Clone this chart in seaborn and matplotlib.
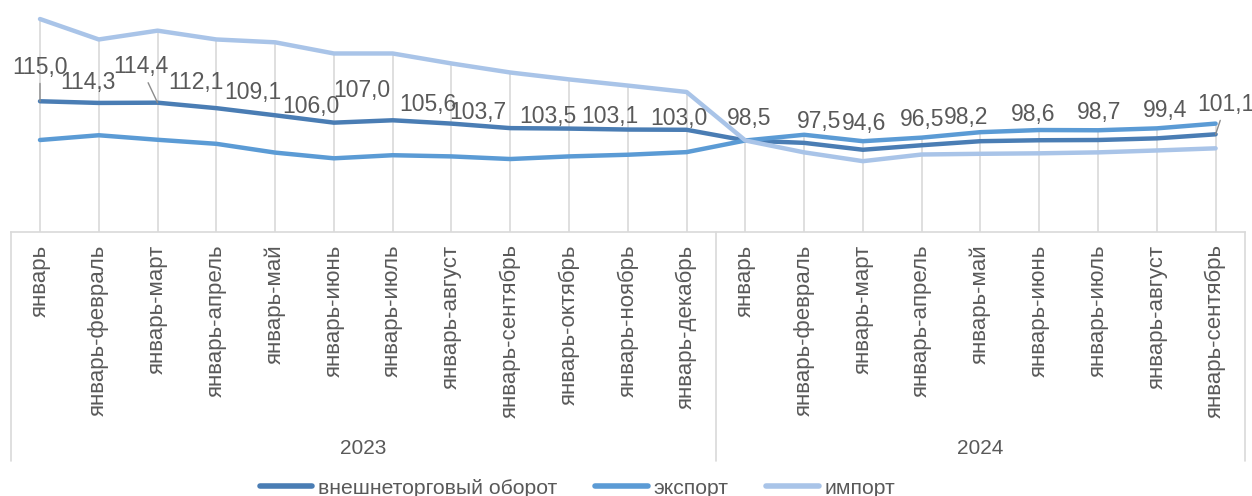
import pandas as pd
import matplotlib.pyplot as plt
import numpy as np
import seaborn as sns

periodos = [
    "январь", "январь-февраль", "январь-март", "январь-апрель", "январь-май",
    "январь-июнь", "январь-июль", "январь-август", "январь-сентябрь",
    "январь-октябрь", "январь-ноябрь", "январь-декабрь",
    "январь", "январь-февраль", "январь-март", "январь-апрель", "январь-май",
    "январь-июнь", "январь-июль", "январь-август", "январь-сентябрь",
]
anos = ["2023"] * 12 + ["2024"] * 9

oborot = [115.0, 114.3, 114.4, 112.1, 109.1, 106.0, 107.0, 105.6, 103.7, 103.5, 103.1, 103.0,
          98.5, 97.5, 94.6, 96.5, 98.2, 98.6, 98.7, 99.4, 101.1]
eksport = [98.7, 100.7, 98.8, 97.1, 93.4, 91.0, 92.3, 91.8, 90.7, 91.8, 92.5, 93.6,
           98.5, 100.9, 98.2, 99.7, 102.0, 102.9, 102.8, 103.6, 105.6]
import_ = [149.6, 141.0, 144.7, 141.0, 139.8, 135.1, 135.1, 130.9, 127.1, 124.2, 121.6, 118.9,
           98.5, 93.5, 89.8, 92.6, 92.9, 93.1, 93.5, 94.3, 95.2]

series = ["внешнеторговый оборот", "экспорт", "импорт"]
cores = ["#4A7DB4", "#5B9BD5", "#A9C4E8"]

# deslocamento dos rotulos (pixels) em relacao ao ponto
rotulo_dx = [0, -11, -17, -20, -22, -23, -31, -24, -32, -21, -18, -8,
             4, 15, 1, 0, -14, -6, 1, 8, 10]
rotulo_dy = [34, 20, 36, 26, 23, 16, 30, 19, 16, 12, 13, 11,
             22, 21, 26, 26, 24, 26, 28, 28, 30]
com_linha = [0, 2, 20]

idx = np.arange(len(periodos))
df = pd.DataFrame({
    "idx": np.tile(idx, 3),
    "serie": np.repeat(series, len(idx)),
    "valor": oborot + eksport + import_,
})

sns.set_style("white")
plt.rcParams["font.family"] = ["Liberation Sans", "DejaVu Sans"]

fig = plt.figure(figsize=(12.52, 4.96), dpi=100)
ax = fig.add_axes([10.6 / 1252, 1 - 232 / 496, (1245 - 10.6) / 1252, 232 / 496])

# linhas de queda (drop lines)
topo = np.max([oborot, eksport, import_], axis=0)
ax.vlines(idx, 60, topo, color="#D9D9D9", lw=1.2, zorder=1)

sns.lineplot(data=df, x="idx", y="valor", hue="serie", hue_order=series,
             palette=cores, linewidth=3.2, legend=False, ax=ax, zorder=3)

for i, v in enumerate(oborot):
    props = None
    if i in com_linha:
        props = dict(arrowstyle="-", color="#8C8C8C", lw=1, shrinkA=1, shrinkB=0)
    ax.annotate(f"{v:.1f}".replace(".", ","), (i, v),
                xytext=(rotulo_dx[i], rotulo_dy[i]), textcoords="offset pixels",
                ha="center", va="center", fontsize=16.5, color="#595959",
                arrowprops=props, zorder=4)

ax.set_xlim(-0.5, 20.5)
ax.set_ylim(60, 157.6)
ax.set_yticks([])
ax.set_xticks(idx)
ax.set_xticklabels(periodos, rotation=90, fontsize=16, color="#595959", va="top", ha="center")
ax.tick_params(axis="x", length=0, pad=9)
ax.set_xlabel("")
ax.set_ylabel("")

for lado in ["top", "left", "right"]:
    ax.spines[lado].set_visible(False)
ax.spines["bottom"].set_color("#D9D9D9")
ax.spines["bottom"].set_linewidth(1.2)

# eixo de categorias em dois niveis
trans = ax.get_xaxis_transform()
for xs in [-0.5, 11.5, 20.5]:
    ax.plot([xs, xs], [0, -229 / 232], transform=trans, color="#D9D9D9", lw=1.2, clip_on=False)
for ano, centro in [("2023", 5.5), ("2024", 16)]:
    ax.annotate(ano, xy=(centro, 0), xycoords=trans, xytext=(0, -216),
                textcoords="offset pixels", ha="center", va="center",
                fontsize=15, color="#595959")

handles = [plt.Line2D([], [], color=c, lw=4) for c in cores]
fig.legend(handles, series, loc="center", bbox_to_anchor=(0.461, 0.016), ncol=3,
           frameon=False, fontsize=15.2, handlelength=2.5, columnspacing=1.8,
           handletextpad=0.25, labelcolor="#595959")

fig.savefig("out.png", dpi=100)
